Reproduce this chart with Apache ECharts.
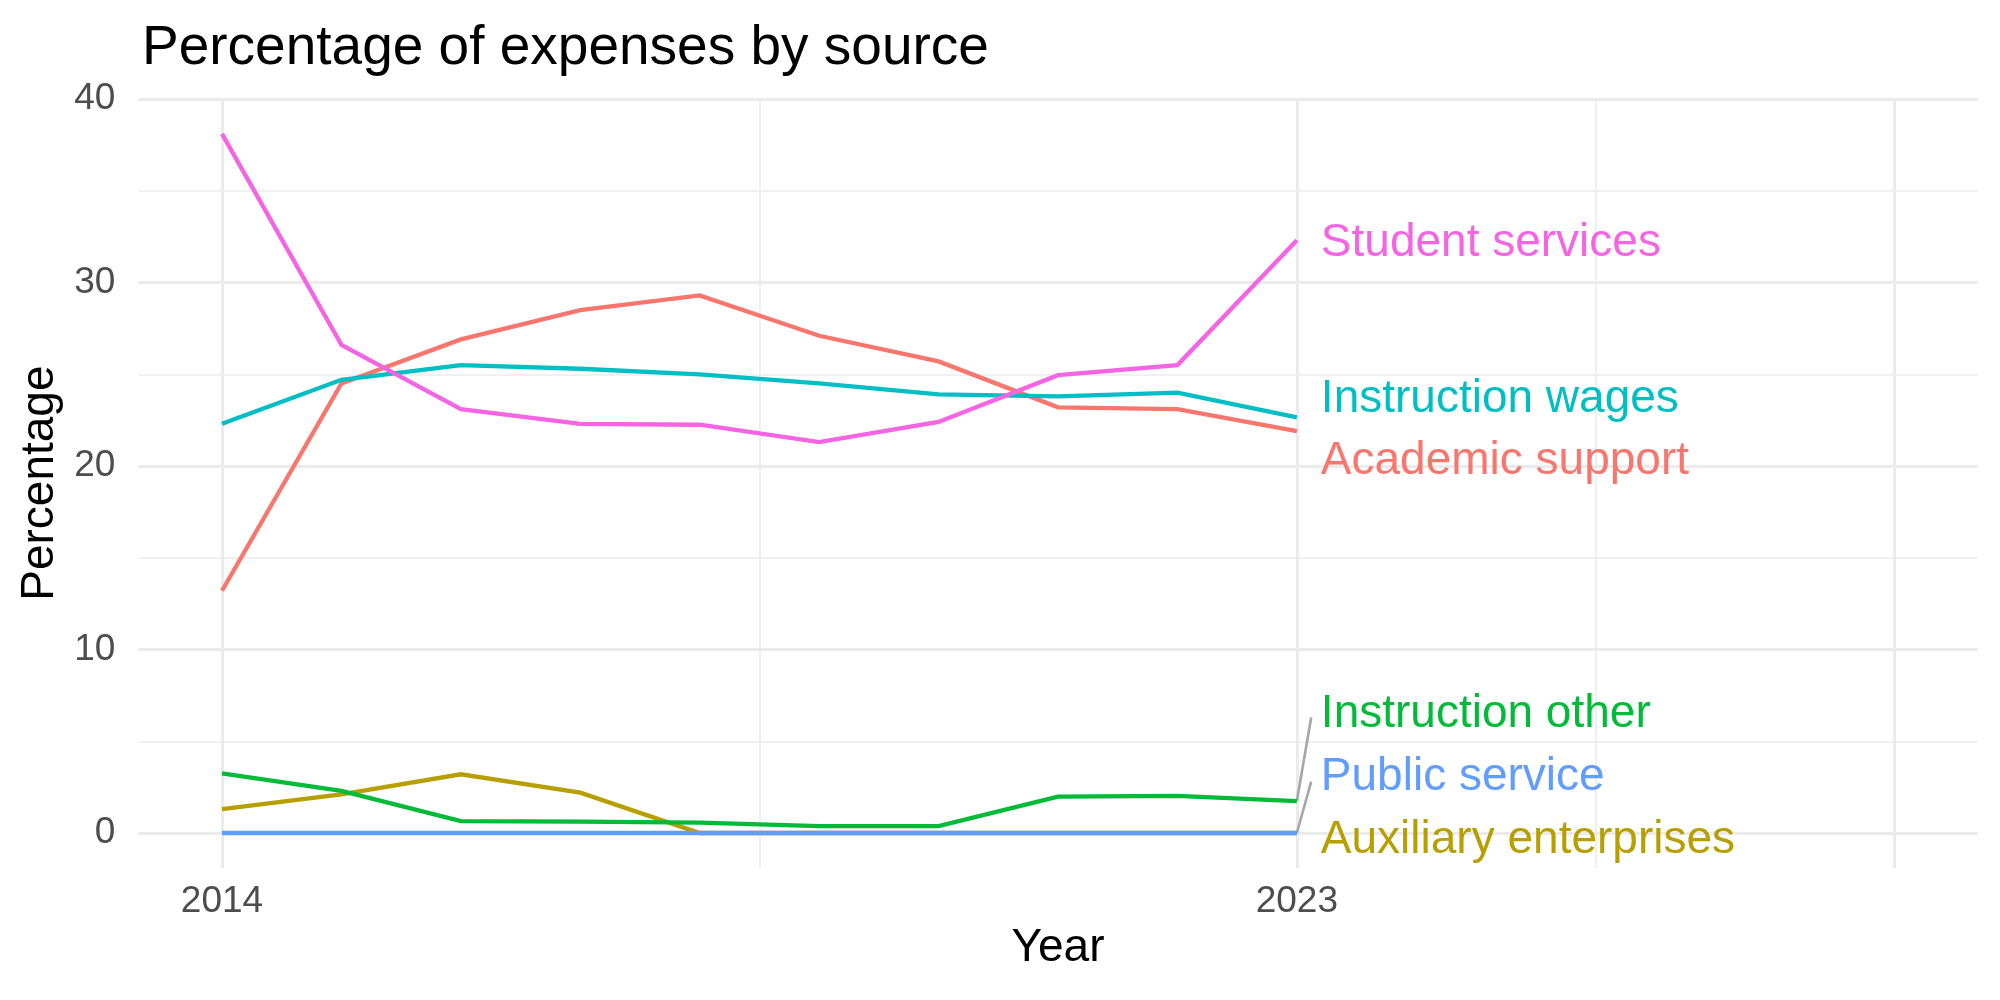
<!DOCTYPE html>
<html>
<head>
<meta charset="utf-8">
<script src="https://cdn.jsdelivr.net/npm/echarts@6/dist/echarts.min.js"></script>
<style>
  html, body { margin: 0; padding: 0; background: #fff; }
  #chart { width: 2000px; height: 1000px; }
</style>
</head>
<body>
<div id="chart"></div>
<script>
// values
var years = [2014, 2015, 2016, 2017, 2018, 2019, 2020, 2021, 2022, 2023];
var academicSupport = [13.2, 24.5, 26.9, 28.5, 29.3, 27.1, 25.7, 23.2, 23.1, 21.9];
var auxiliaryEnterprises = [1.3, 2.1, 3.2, 2.2, 0, 0, 0, 0, 0, 0];
var instructionOther = [3.25, 2.3, 0.65, 0.62, 0.57, 0.38, 0.38, 1.98, 2.02, 1.74];
var instructionWages = [22.3, 24.7, 25.5, 25.3, 25.0, 24.5, 23.9, 23.8, 24.0, 22.65];
var publicService = [0, 0, 0, 0, 0, 0, 0, 0, 0, 0];
var studentServices = [38.1, 26.6, 23.1, 22.3, 22.25, 21.3, 22.4, 24.95, 25.5, 32.3];

var xLabels = [2014, 2023];
var yLabels = [0, 10, 20, 30, 40];
var xMajor = [2014, 2023, 2028];
var xMinor = [2018.5, 2025.5];
var yMajor = [0, 10, 20, 30, 40];
var yMinor = [5, 15, 25, 35];

var FONT = 'Liberation Sans';

// name, values, colour, label offset [dx, dy] in px, repel segment end (data coords)
var groups = [
  { name: 'Academic support', values: academicSupport, color: '#F8766D', offset: [24, 30] },
  { name: 'Auxiliary enterprises', values: auxiliaryEnterprises, color: '#B79F00', offset: [24, 7] },
  { name: 'Instruction other', values: instructionOther, color: '#00BA38', offset: [24, -87], seg: [2023.12, 6.3] },
  { name: 'Instruction wages', values: instructionWages, color: '#00BFC4', offset: [24, -18] },
  { name: 'Public service', values: publicService, color: '#619CFF', offset: [24, -56], seg: [2023.12, 2.8] },
  { name: 'Student services', values: studentServices, color: '#F564E3', offset: [24, 3] }
];

var chart = echarts.init(document.getElementById('chart'), null, { renderer: 'canvas' });

function gridLine(axis, v, w) {
  var d = { lineStyle: { color: '#EBEBEB', width: w, type: 'solid' } };
  d[axis] = v;
  return d;
}

var gridData = [];
yMinor.forEach(function (v) { gridData.push(gridLine('yAxis', v, 1.5)); });
xMinor.forEach(function (v) { gridData.push(gridLine('xAxis', v, 1.5)); });
yMajor.forEach(function (v) { gridData.push(gridLine('yAxis', v, 3)); });
xMajor.forEach(function (v) { gridData.push(gridLine('xAxis', v, 3)); });

var series = [{
  type: 'line',
  data: [],
  z: 1,
  silent: true,
  markLine: {
    z: 1,
    silent: true,
    symbol: 'none',
    animation: false,
    label: { show: false },
    emphasis: { disabled: true },
    data: gridData
  }
}];

var segData = [];
groups.forEach(function (g) {
  if (g.seg) {
    segData.push([{ coord: [years[years.length - 1], g.values[g.values.length - 1]] }, { coord: g.seg }]);
  }
});
series.push({
  type: 'line',
  data: [],
  z: 2,
  silent: true,
  markLine: {
    z: 2,
    silent: true,
    symbol: 'none',
    animation: false,
    label: { show: false },
    lineStyle: { color: '#A6A6A6', width: 2.6, type: 'solid' },
    emphasis: { disabled: true },
    data: segData
  }
});

groups.forEach(function (g, i) {
  series.push({
    name: g.name,
    type: 'line',
    z: 10 + i,
    data: years.map(function (y, k) { return [y, g.values[k]]; }),
    showSymbol: false,
    symbol: 'none',
    lineStyle: { color: g.color, width: 4.3, cap: 'butt', join: 'miter' },
    itemStyle: { color: g.color },
    emphasis: { disabled: true },
    endLabel: {
      show: true,
      formatter: '{a}',
      color: g.color,
      fontFamily: FONT,
      fontSize: 46,
      distance: 0,
      offset: g.offset
    }
  });
});

chart.setOption({
  animation: false,
  backgroundColor: '#fff',
  title: {
    text: 'Percentage of expenses by source',
    left: 137,
    top: 16,
    textStyle: { fontFamily: FONT, fontSize: 55, fontWeight: 'normal', color: '#000' }
  },
  grid: { left: 138.4, right: 22.4, top: 98.3, bottom: 132 },
  xAxis: {
    type: 'value',
    min: 2013.3,
    max: 2028.7,
    name: 'Year',
    nameLocation: 'middle',
    nameGap: 55,
    nameTextStyle: { fontFamily: FONT, fontSize: 46, color: '#000' },
    axisLine: { show: false },
    axisTick: { show: false, customValues: xLabels },
    splitLine: { show: false },
    axisLabel: {
      customValues: xLabels,
      margin: 15,
      fontFamily: FONT,
      fontSize: 37,
      color: '#4D4D4D',
      formatter: function (v) { return String(v); }
    }
  },
  yAxis: {
    type: 'value',
    min: -1.907,
    max: 40.04,
    name: 'Percentage',
    nameLocation: 'middle',
    nameGap: 73,
    nameTextStyle: { fontFamily: FONT, fontSize: 46, color: '#000' },
    axisLine: { show: false },
    axisTick: { show: false, customValues: yLabels },
    splitLine: { show: false },
    axisLabel: {
      customValues: yLabels,
      margin: 23,
      fontFamily: FONT,
      fontSize: 37,
      color: '#4D4D4D'
    }
  },
  series: series
});
</script>
</body>
</html>
